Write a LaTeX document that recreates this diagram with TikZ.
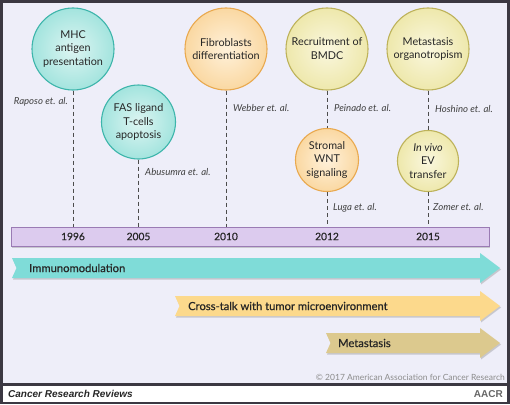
\documentclass[tikz,border=0pt]{standalone}
\usepackage{fontspec}
\setmainfont{Lato}
\newfontfamily\medf{Lato}[FakeBold=0.6]
\newfontfamily\arialf{Liberation Sans}
\usetikzlibrary{shadows}
\definecolor{bg}{HTML}{EEEEF9}
\definecolor{frm}{HTML}{3B3842}
\definecolor{tealD}{HTML}{3DB5AB}
\definecolor{tealM}{HTML}{A3E4DE}
\definecolor{tealL}{HTML}{DDF5F2}
\definecolor{orgD}{HTML}{E9A94F}
\definecolor{orgM}{HTML}{FAD8A2}
\definecolor{orgL}{HTML}{FFF1DA}
\definecolor{ylwD}{HTML}{BDB25A}
\definecolor{ylwM}{HTML}{EEE8AC}
\definecolor{ylwL}{HTML}{FAF7DE}
\definecolor{barF}{HTML}{DCCBEE}
\definecolor{barD}{HTML}{9A7BB4}
\definecolor{bandT}{HTML}{7FDCD8}
\definecolor{bandY}{HTML}{FCD98C}
\definecolor{bandB}{HTML}{DCC98E}
\tikzset{
  bub/.style={circle,draw,line width=1.1pt,align=center,inner sep=0pt,text=black!85,
    font=\fontsize{10.8}{13.8}\selectfont},
  tq/.style={bub,draw=tealD,inner color=tealL,outer color=tealM},
  og/.style={bub,draw=orgD,inner color=orgL,outer color=orgM},
  yg/.style={bub,draw=ylwD,inner color=ylwL,outer color=ylwM},
  cite/.style={inner sep=0pt,text=black!75,font=\fontsize{9.6}{11}\selectfont\itshape},
  yr/.style={inner sep=0pt,text=black!85,font=\medf\fontsize{10.2}{12}\selectfont},
  lbl/.style={inner sep=0pt,anchor=west,text=black!85,font=\medf\fontsize{11.2}{13}\selectfont},
  dsh/.style={draw=black!70,line width=0.8pt,dash pattern=on 4pt off 3pt},
  shd/.style={drop shadow={opacity=0.35,shadow xshift=1pt,shadow yshift=-1.5pt}},
}
\begin{document}
\begin{tikzpicture}[x=1pt,y=-1pt]
\useasboundingbox (0,0) rectangle (510,404);
\fill[frm] (0,0) rectangle (510,404);
\fill[bg] (3,3) rectangle (507,383);
\fill[white] (3,386) rectangle (507,401.5);

\node[tq,minimum size=82pt] (mhc) at (73,49) {MHC\\antigen\\presentation};
\node[tq,minimum size=74pt] (fas) at (138.5,122) {FAS ligand\\T-cells\\apoptosis};
\node[og,minimum size=82pt] (fib) at (226,49) {Fibroblasts\\differentiation};
\node[yg,minimum size=82pt] (bmdc) at (327,49) {Recruitment of\\BMDC};
\node[yg,minimum size=82pt] (org) at (428,49) {Metastasis\\organotropism};
\node[og,minimum size=63pt] (wnt) at (327,160) {Stromal\\WNT\\signaling};
\node[yg,minimum size=61pt] (ev) at (428,161) {\textit{In vivo}\\EV\\transfer};

\node[shd,fill=barF,draw=barD,line width=1pt,minimum width=478pt,minimum height=19pt,inner sep=0pt] (tl) at (250,236.5) {};
\node[yr] (y96) at (73,236.5) {1996}; \node[yr] (y05) at (138.5,236.5) {2005};
\node[yr] (y10) at (226,236.5) {2010}; \node[yr] (y12) at (327,236.5) {2012};
\node[yr] (y15) at (428,236.5) {2015};

\draw[dsh] (mhc) -- (mhc |- tl.north); \draw[dsh] (fas) -- (fas |- tl.north);
\draw[dsh] (fib) -- (fib |- tl.north); \draw[dsh] (bmdc) -- (wnt);
\draw[dsh] (wnt) -- (wnt |- tl.north); \draw[dsh] (org) -- (ev);
\draw[dsh] (ev) -- (ev |- tl.north);

\node[cite,anchor=east] (rap) at (68,102) {Raposo et. al.};
\node[cite,anchor=west] (abu) at (145,172) {Abusumra et. al.};
\node[cite,anchor=west] (web) at (233,108) {Webber et. al.};
\node[cite,anchor=west] (pei) at (334,108) {Peinado et. al.};
\node[cite,anchor=west] (hos) at (435,109) {Hoshino et. al.};
\node[cite,anchor=west] (lug) at (333,208) {Luga et. al.};
\node[cite,anchor=west] (zom) at (433,207) {Zomer et. al.};

\foreach \x/\y/\c/\t/\n/\tx in {12/268/bandT/Immunomodulation/imm/29,
  175/306/bandY/Cross-talk with tumor microenvironment/ctk/188,
  326/343/bandB/Metastasis/met/338}{
  \fill[\c,shd] (\x,\y-10) -- (480,\y-10) -- (480,\y-15) -- (500,\y) -- (480,\y+15)
    -- (480,\y+10) -- (\x,\y+10) -- (\x+4.5,\y) -- cycle;
  \node[lbl] (\n) at (\tx,\y) {\t};
}

\node[inner sep=0pt,anchor=east,text=black!45,font=\fontsize{8.5}{10}\selectfont] (copy) at (505,377) {\textcopyright\ 2017 American Association for Cancer Research};
\node[inner sep=0pt,anchor=west,text=black!85,font=\arialf\bfseries\itshape\fontsize{10}{12}\selectfont] (jrn) at (8,394) {Cancer Research Reviews};
\node[inner sep=0pt,anchor=east,text=black!60,font=\arialf\bfseries\fontsize{10}{12}\selectfont] (aacr) at (503,394) {AACR};
\end{tikzpicture}
\end{document}
